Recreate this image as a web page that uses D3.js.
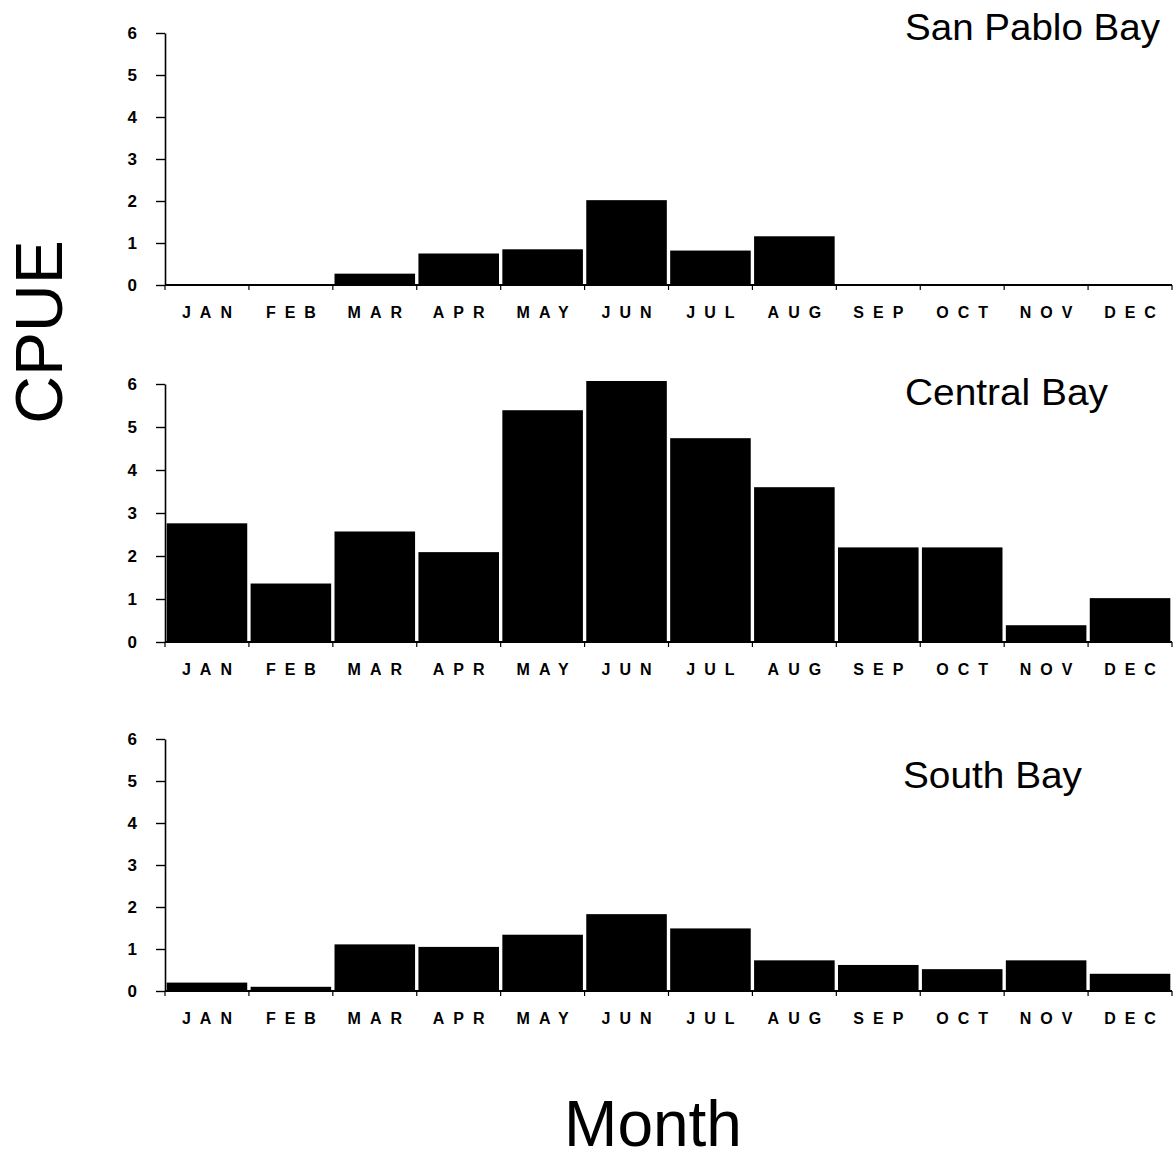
<!DOCTYPE html>
<html>
<head>
<meta charset="utf-8">
<script src="https://cdn.jsdelivr.net/npm/d3@7"></script>
<style>
  html, body { margin: 0; padding: 0; background: #fff; }
  svg { display: block; }
  text { font-family: "Liberation Sans", Arial, Helvetica, sans-serif; fill: #000; }
</style>
</head>
<body>
<svg id="chart" width="1176" height="1160"></svg>
<script>
// Monthly catch per unit effort (CPUE) by bay
const months = ["JAN", "FEB", "MAR", "APR", "MAY", "JUN", "JUL", "AUG", "SEP", "OCT", "NOV", "DEC"];
const sanPabloBay = [0, 0, 0.27, 0.75, 0.85, 2.02, 0.82, 1.16, 0, 0, 0, 0];
const centralBay  = [2.76, 1.36, 2.57, 2.09, 5.39, 6.07, 4.74, 3.6, 2.2, 2.2, 0.39, 1.02];
const southBay    = [0.2, 0.1, 1.11, 1.05, 1.34, 1.83, 1.49, 0.73, 0.62, 0.52, 0.73, 0.41];
const yTicks = [0, 1, 2, 3, 4, 5, 6];
const panelTitles = ["San Pablo Bay", "Central Bay", "South Bay"];

const svg = d3.select("#chart");

const panels = [
  { title: panelTitles[0], values: sanPabloBay, y0: 285, y1: 33,  tx: 905, ty: 40,  tw: 255 },
  { title: panelTitles[1], values: centralBay,  y0: 642, y1: 384, tx: 905, ty: 405, tw: 203 },
  { title: panelTitles[2], values: southBay,    y0: 991, y1: 739, tx: 903, ty: 788, tw: 179 }
];

const xLeft = 165, xRight = 1172;

panels.forEach(p => {
  const x = d3.scaleBand().domain(months).range([xLeft, xRight])
    .paddingInner(0.04).paddingOuter(0.02);
  const y = d3.scaleLinear().domain([0, 6]).range([p.y0, p.y1]);
  const g = svg.append("g");

  // bars
  g.selectAll("rect.bar").data(p.values).join("rect")
    .attr("class", "bar")
    .attr("x", (d, i) => x(months[i]))
    .attr("width", x.bandwidth())
    .attr("y", d => y(d))
    .attr("height", d => Math.max(0, y(0) - y(d)))
    .attr("fill", "#000");

  // y axis
  const yAxis = g.append("g")
    .attr("transform", `translate(${xLeft},0)`)
    .call(d3.axisLeft(y).tickValues(yTicks).tickFormat(d3.format("d"))
      .tickSize(9).tickPadding(19).tickSizeOuter(0));
  yAxis.attr("font-size", null).attr("font-family", null);
  yAxis.select(".domain").attr("stroke", "#000").attr("stroke-width", 1.6);
  yAxis.selectAll(".tick line").attr("stroke", "#000").attr("stroke-width", 1.4);
  yAxis.selectAll(".tick text")
    .style("font-size", "17px").style("font-weight", "bold");

  // x axis with boundary ticks between months
  const boundaries = months.map(m => x(m) - x.step() * x.paddingInner() / 2);
  boundaries.push(xRight);
  g.append("line")
    .attr("x1", xLeft).attr("x2", xRight)
    .attr("y1", y(0)).attr("y2", y(0))
    .attr("stroke", "#000").attr("stroke-width", 2);
  g.selectAll("line.xtick").data(boundaries).join("line")
    .attr("class", "xtick")
    .attr("x1", d => d).attr("x2", d => d)
    .attr("y1", y(0)).attr("y2", y(0) + 5)
    .attr("stroke", "#000").attr("stroke-width", 1.2);

  // month labels
  g.selectAll("text.month").data(months).join("text")
    .attr("class", "month")
    .attr("x", d => x(d) + x.bandwidth() / 2 + 4.5)
    .attr("y", y(0) + 33)
    .attr("text-anchor", "middle")
    .style("font-size", "16px").style("font-weight", "bold")
    .style("letter-spacing", "9px")
    .text(d => d);

  // panel title
  g.append("text")
    .attr("x", p.tx).attr("y", p.ty)
    .style("font-size", "36px")
    .attr("textLength", p.tw)
    .attr("lengthAdjust", "spacingAndGlyphs")
    .text(p.title);
});

// axis titles
svg.append("text")
  .attr("transform", "translate(62,332) rotate(-90)")
  .attr("text-anchor", "middle")
  .style("font-size", "66px")
  .text("CPUE");

svg.append("text")
  .attr("x", 653).attr("y", 1146)
  .attr("text-anchor", "middle")
  .style("font-size", "64px")
  .text("Month");
</script>
</body>
</html>
